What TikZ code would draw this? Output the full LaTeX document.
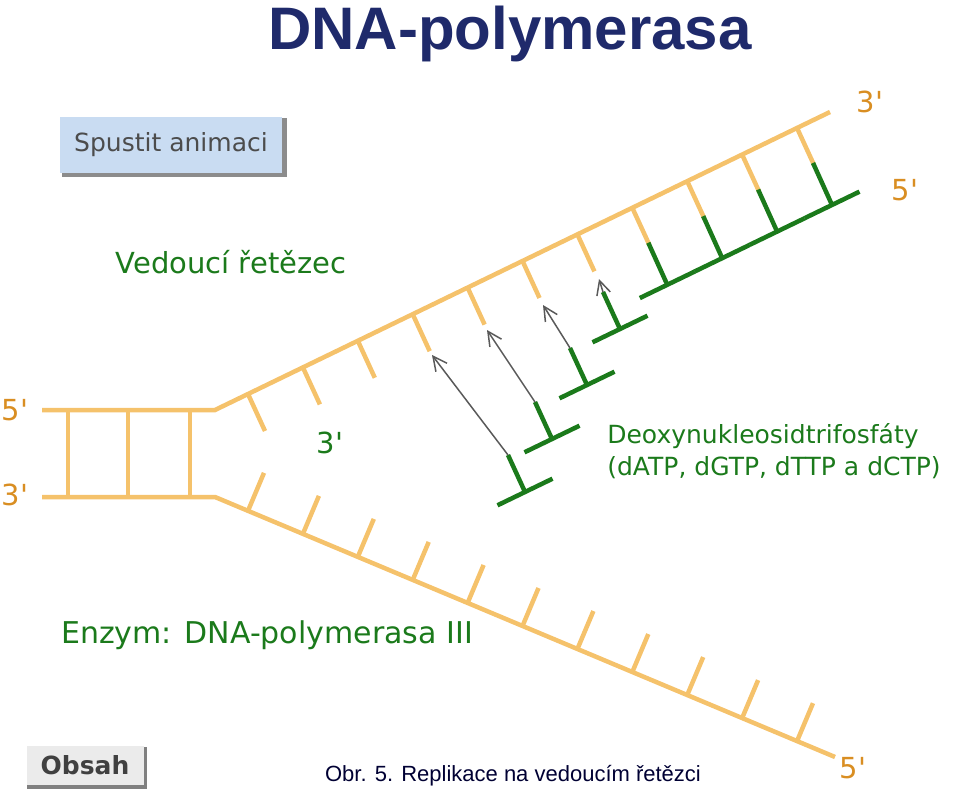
\documentclass[tikz,border=0pt]{standalone}
\usepackage{fontspec}
\setmainfont{DejaVu Sans}
\newfontfamily\arialf{Liberation Sans}
\usetikzlibrary{arrows.meta}
\definecolor{strand}{HTML}{F5C26B}
\definecolor{ortext}{HTML}{D98E22}
\definecolor{gr}{HTML}{1B7A1B}
\definecolor{navy}{HTML}{1F2A6B}
\definecolor{btnblue}{HTML}{C9DCF2}
\newcommand{\pr}{\textquotesingle}
\tikzset{
  dna/.style={strand,line width=4.5pt},
  nuc/.style={gr,line width=4.5pt},
  arr/.style={draw=black!65,line width=1.5pt,-{Straight Barb[length=14pt,width=14pt]}},
  lab/.style={inner sep=0pt,anchor=center}
}
\begin{document}
\begin{tikzpicture}[x=1pt,y=-1pt]
\useasboundingbox (0,0) rectangle (960,794);
% ladder
\draw[dna] (42,410) -- (215,410) -- (830,112);
\draw[dna] (42,497) -- (215,497) -- (835,757);
\foreach \x in {68,128,190} \draw[dna] (\x,410) -- (\x,497);
\foreach \i in {0,...,10} {
  \pgfmathsetmacro{\ax}{248+54.9*\i}
  \pgfmathsetmacro{\ay}{410-0.4846*(\ax-215)}
  \draw[dna] (\ax,\ay) -- ++(17,37);
  \pgfmathsetmacro{\bx}{248+54.9*\i}
  \pgfmathsetmacro{\by}{497+0.4195*(\bx-215)}
  \draw[dna] (\bx,\by) -- ++(16,-38);
}
% attached nucleotides
\foreach \i in {7,8,9,10} {
  \pgfmathsetmacro{\ax}{248+54.9*\i}
  \pgfmathsetmacro{\ay}{410-0.4846*(\ax-215)}
  \draw[nuc] (\ax+16,\ay+35) -- (\ax+35,\ay+77);
  \draw[nuc] (\ax+35-27.5,\ay+77+13.3) -- (\ax+35+27.5,\ay+77-13.3);
}
% free nucleotides
\foreach \sx/\sy/\k in {508/455/1,535/402/2,570/348/3,603/292/4} {
  \draw[nuc] (\sx,\sy) -- (\sx+17,\sy+37);
  \draw[nuc] (\sx+17-27.5,\sy+37+13.3) -- (\sx+17+27.5,\sy+37-13.3);
  \coordinate (s\k) at (\sx,\sy);
}
\coordinate (t1) at (432,355);
\coordinate (t2) at (487,330);
\coordinate (t3) at (543,305);
\coordinate (t4) at (599,279);
\foreach \k in {1,2,3,4} \draw[arr] (s\k) -- (t\k);
% texts
\node[lab,text=navy,font=\arialf\bfseries\fontsize{60}{66}\selectfont] (title) at (510,34) {DNA-polymerasa};
\fill[black!45] (62,118) rectangle (287,177);
\node[fill=btnblue,inner sep=0pt,minimum width=222pt,minimum height=56pt,text=black!70,font=\fontsize{25}{28}\selectfont] (btn) at (171,145) {Spustit animaci};
\node[lab,text=gr,font=\fontsize{29}{32}\selectfont] (ved) at (231,262) {Vedoucí řetězec};
\node[lab,text=ortext,font=\fontsize{29}{32}\selectfont] (u3) at (870,102) {3\pr};
\node[lab,text=ortext,font=\fontsize{29}{32}\selectfont] (u5) at (905,190) {5\pr};
\node[lab,text=ortext,font=\fontsize{29}{32}\selectfont] (l5) at (15,410) {5\pr};
\node[lab,text=ortext,font=\fontsize{29}{32}\selectfont] (l3) at (15,495) {3\pr};
\node[lab,text=gr,font=\fontsize{29}{32}\selectfont] (m3) at (330,443) {3\pr};
\node[lab,text=gr,font=\fontsize{25}{32}\selectfont,align=left] (dntp) at (774,451) {Deoxynukleosidtrifosfáty\\(dATP, dGTP, dTTP a dCTP)};
\node[lab,text=gr,font=\fontsize{30}{34}\selectfont] (enz) at (267,635) {Enzym: DNA-polymerasa III};
\fill[black!50] (27,747) rectangle (147,789);
\node[fill=black!8,inner sep=0pt,minimum width=117pt,minimum height=39pt,text=black!75,font=\bfseries\fontsize{25}{28}\selectfont] (obsah) at (85,765) {Obsah};
\node[lab,text=black!80!blue,font=\arialf\fontsize{22}{26}\selectfont] (cap) at (513,776) {Obr. 5. Replikace na vedoucím řetězci};
\node[lab,text=ortext,font=\fontsize{29}{32}\selectfont] (b5) at (853,768) {5\pr};
\end{tikzpicture}
\end{document}
